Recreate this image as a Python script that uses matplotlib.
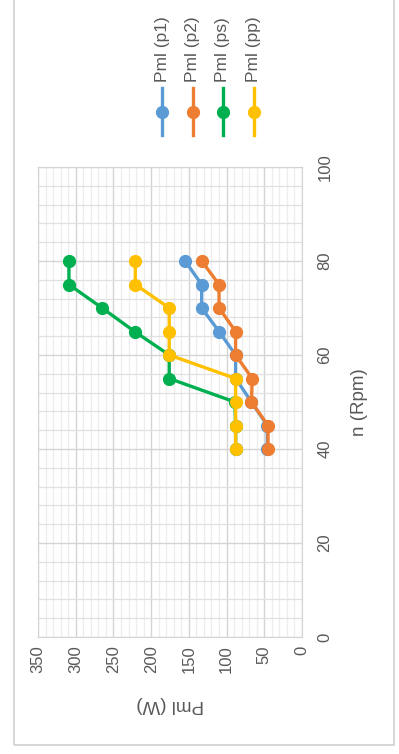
import numpy as np
import matplotlib.pyplot as plt
from matplotlib.ticker import MultipleLocator
from matplotlib.lines import Line2D
from matplotlib.patches import Rectangle

plt.rcParams['font.family'] = ['Liberation Sans', 'DejaVu Sans']

n_rpm = [40, 45, 50, 55, 60, 65, 70, 75, 80]
pml_p1 = [46, 46, 67, 88, 88, 110, 133, 133, 155]
pml_p2 = [45, 45, 67, 66, 88, 88, 110, 110, 133]
pml_ps = [88, 88, 89, 176, 176, 222, 265, 309, 309]
pml_pp = [88, 88, 88, 88, 176, 176, 176, 221, 221]

series = [
    ('Pml (p1)', pml_p1, '#5B9BD5'),
    ('Pml (p2)', pml_p2, '#ED7D31'),
    ('Pml (ps)', pml_ps, '#00B050'),
    ('Pml (pp)', pml_pp, '#FFC000'),
]

txt = '#595959'
W, H = 399, 754
fig = plt.figure(figsize=(W / 100, H / 100), dpi=100)

# chart frame
fig.patches.append(Rectangle((14 / W, 1 - 745 / H), (394 - 14) / W, 745 / H + 0.01,
                             transform=fig.transFigure, fill=False,
                             edgecolor='#D0D0D0', lw=1.2))

# chart turned on its side: power runs right-to-left, speed bottom-to-top
ax = fig.add_axes([38 / W, 1 - 637 / H, (302 - 38) / W, (637 - 167) / H])
for name, vals, col in series:
    ax.plot(vals, n_rpm, color=col, lw=2.4, marker='o', ms=8.5, zorder=3)

ax.set_xlim(350, 0)
ax.set_ylim(0, 100)
ax.xaxis.set_major_locator(MultipleLocator(50))
ax.xaxis.set_minor_locator(MultipleLocator(10))
ax.yaxis.set_major_locator(MultipleLocator(20))
ax.yaxis.set_minor_locator(MultipleLocator(4))
ax.grid(which='major', color='#D4D4D4', lw=1.0)
ax.grid(which='minor', axis='x', color='#EDEDED', lw=0.9)
ax.grid(which='minor', axis='y', color='#E0E0E0', lw=0.9)
ax.set_axisbelow(True)
for s in ax.spines.values():
    s.set_color('#D4D4D4')
ax.tick_params(which='both', length=0)
ax.yaxis.tick_right()
ax.tick_params(axis='x', labelrotation=90, labelsize=12, labelcolor=txt, pad=6)
ax.tick_params(axis='y', labelrotation=90, labelsize=12, labelcolor=txt, pad=11)
for lbl in ax.get_yticklabels():
    lbl.set_verticalalignment('center')

fig.text(170 / W, 1 - 704 / H, 'Pml (W)', rotation=180, ha='center', va='center',
         fontsize=13.5, color=txt)
fig.text(359 / W, 1 - 402 / H, 'n (Rpm)', rotation=90, ha='center', va='center',
         fontsize=13.5, color=txt)

# legend drawn as rotated entries
for i, (name, vals, col) in enumerate(series):
    x = (162 + 30.5 * i) / W
    fig.add_artist(Line2D([x, x], [1 - 135 / H, 1 - 88 / H], color=col, lw=2.4,
                          marker=None, transform=fig.transFigure))
    fig.add_artist(Line2D([x], [1 - 112 / H], color=col, marker='o', ms=8.5,
                          transform=fig.transFigure))
    fig.text(x, 1 - 82 / H, name, rotation=90, ha='center', va='bottom',
             fontsize=12.5, color=txt)

fig.savefig('out.png', dpi=100)
